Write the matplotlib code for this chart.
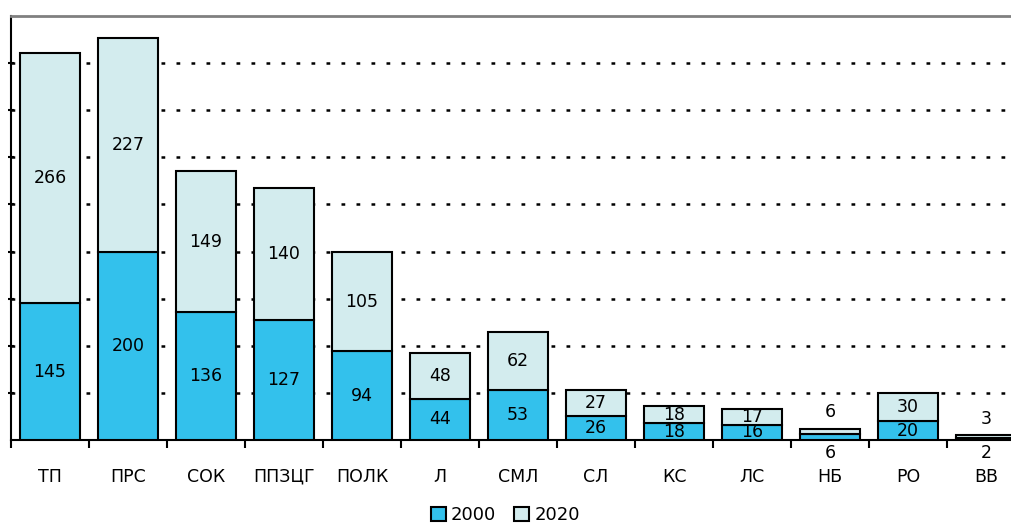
import matplotlib.pyplot as plt
import numpy as np

plt.rcParams['font.family'] = ['DejaVu Sans']

categories = ['ТП', 'ПРС', 'СОК', 'ППЗЦГ', 'ПОЛК', 'Л', 'СМЛ', 'СЛ', 'КС', 'ЛС', 'НБ', 'РО', 'ВВ']
y2000 = [145, 200, 136, 127, 94, 44, 53, 26, 18, 16, 6, 20, 2]
y2020 = [266, 227, 149, 140, 105, 48, 62, 27, 18, 17, 6, 30, 3]

c2000 = '#33c1ec'
c2020 = '#d3ecee'
fs = 12.5

fig = plt.figure(figsize=(10.11, 5.25), dpi=100, facecolor='w')
ax = fig.add_axes([11/1011, 85/525, 13*78/1011, 424/525])

x = np.arange(len(categories))
w = 0.78
ax.bar(x, y2000, w, color=c2000, edgecolor='black', linewidth=1.5, label='2000', zorder=3)
ax.bar(x, y2020, w, bottom=y2000, color=c2020, edgecolor='black', linewidth=1.5, label='2020', zorder=3)

# подписи значений
for i in range(len(categories)):
    a, b = y2000[i], y2020[i]
    if a + b < 15:
        ax.text(i, a + b + 8, str(b), ha='center', va='bottom', fontsize=fs)
        ax.text(i, -4, str(a), ha='center', va='top', fontsize=fs)
    else:
        ax.text(i, a / 2, str(a), ha='center', va='center', fontsize=fs, zorder=4)
        ax.text(i, a + b / 2, str(b), ha='center', va='center', fontsize=fs, zorder=4)

ax.set_xlim(-0.5, len(categories) - 0.5)
ax.set_ylim(0, 450)
ax.set_yticks(np.arange(50, 450, 50))
ax.set_yticklabels([])
ax.tick_params(axis='y', direction='inout', length=4, width=1.5)
ax.yaxis.grid(True, linestyle=(0, (1.5, 4.5)), color='black', linewidth=1.8)
ax.set_axisbelow(True)

ax.set_xticks(x)
ax.set_xticklabels(categories, fontsize=fs)
ax.tick_params(axis='x', length=0, pad=20)
ax.set_xticks(np.arange(-0.5, len(categories), 1), minor=True)
ax.tick_params(axis='x', which='minor', direction='out', length=6, width=1.5)

ax.spines['right'].set_visible(False)
ax.spines['top'].set_color('#808080')
ax.spines['top'].set_linewidth(2)
ax.spines['left'].set_linewidth(1.5)
ax.spines['bottom'].set_linewidth(1.5)

fig.legend(loc='lower center', bbox_to_anchor=(0.5, -0.03), ncol=2, frameon=False,
           fontsize=13, handlelength=0.8, handleheight=0.8,
           handletextpad=0.3, columnspacing=1.0)

fig.savefig('out.png', dpi=100)
